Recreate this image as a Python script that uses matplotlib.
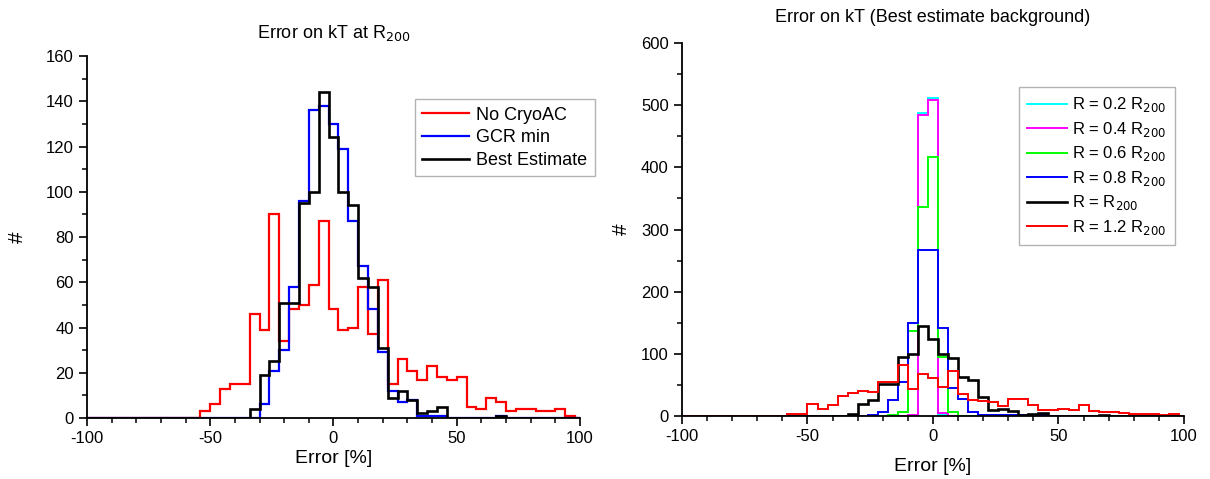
import numpy as np
import matplotlib
matplotlib.use("Agg")
import matplotlib.pyplot as plt
from matplotlib.ticker import MultipleLocator

plt.rcParams['font.family'] = ['Liberation Sans', 'DejaVu Sans']
plt.rcParams['axes.unicode_minus'] = False

# 4 % wide bins, edges at ...,-6,-2,2,6,...
bin_w = 4
edges = np.arange(-102, 103, bin_w)

# left panel: counts per bin, starting at the given lower edge
no_cryo_start = -54
no_cryo = [3, 6, 13, 15, 15, 46, 39, 90, 34, 48, 50, 59, 87, 48, 39, 40, 58, 37, 61, 15,
           26, 21, 17, 23, 18, 17, 18, 5, 4, 9, 7, 3, 4, 4, 3, 3, 4, 1]
gcr_min_start = -34
gcr_min = [0, 6, 21, 30, 58, 96, 136, 138, 130, 119, 87, 67, 48, 29, 12, 7, 8, 1, 1, 1,
           0, 0, 0, 0, 0, 1]
best_start = -34
best = [4, 19, 25, 51, 51, 95, 100, 144, 124, 100, 94, 62, 58, 31, 9, 12, 8, 2, 3, 5,
        0, 0, 0, 0, 0, 1]

# right panel
r02_start = -6
r02 = [487, 511, 2]
r04_start = -10
r04 = [1, 484, 508, 5]
r06_start = -18
r06 = [1, 6, 137, 336, 417, 95, 7]
r08_start = -34
r08 = [0, 0, 1, 7, 26, 55, 149, 267, 267, 142, 45, 27, 7, 2, 1, 1, 1, 1, 1, 1]
r12_start = -58
r12 = [4, 4, 19, 11, 18, 32, 37, 40, 39, 54, 55, 82, 43, 67, 61, 47, 73, 35, 25, 24,
       22, 16, 27, 28, 18, 10, 9, 12, 10, 17, 8, 6, 6, 5, 4, 3, 3, 2, 3]


def full(counts, start):
    # put counts on the common bin grid, zeros elsewhere
    out = np.zeros(len(edges) - 1)
    i0 = int((start - edges[0]) // bin_w)
    out[i0:i0 + len(counts)] = counts
    return out


def style(ax, ymax, ymaj, ymin, xpad, ypad):
    ax.set_xlim(-100, 100)
    ax.set_ylim(0, ymax)
    ax.spines['top'].set_visible(False)
    ax.spines['right'].set_visible(False)
    for s in ('left', 'bottom'):
        ax.spines[s].set_linewidth(1.3)
    ax.xaxis.set_major_locator(MultipleLocator(50))
    ax.xaxis.set_minor_locator(MultipleLocator(10))
    ax.yaxis.set_major_locator(MultipleLocator(ymaj))
    ax.yaxis.set_minor_locator(MultipleLocator(ymin))
    ax.tick_params(which='major', direction='out', length=6, width=1.2, labelsize=12)
    ax.tick_params(which='minor', direction='out', length=3.5, width=1.1)
    ax.set_xlabel('Error [%]', fontsize=14, labelpad=xpad)
    ax.set_ylabel('#', fontsize=15, labelpad=ypad)


fig = plt.figure(figsize=(12.1, 4.79), dpi=100)
ax1 = fig.add_axes([0.0719, 0.1273, 0.4074, 0.7557])
ax2 = fig.add_axes([0.5636, 0.1315, 0.4149, 0.7787])

ax1.stairs(full(no_cryo, no_cryo_start), edges, color='#ff0000', lw=1.6, label='No CryoAC')
ax1.stairs(full(gcr_min, gcr_min_start), edges, color='#0000ff', lw=1.6, label='GCR min')
ax1.stairs(full(best, best_start), edges, color='black', lw=1.9, label='Best Estimate')
style(ax1, 160, 20, 10, 3, 14)
ax1.set_title('Error on kT at R$_{200}$', fontsize=13, pad=13)
ax1.legend(loc='upper left', bbox_to_anchor=(0.665, 0.88), fontsize=13, frameon=True,
           fancybox=False, edgecolor='#a0a0a0', handlelength=2.6, handletextpad=0.4,
           borderpad=0.4, labelspacing=0.32, borderaxespad=0)

ax2.stairs(full(r02, r02_start), edges, color='#00ffff', lw=1.4, label='R = 0.2 R$_{200}$')
ax2.stairs(full(r04, r04_start), edges, color='#ff00ff', lw=1.4, label='R = 0.4 R$_{200}$')
ax2.stairs(full(r06, r06_start), edges, color='#00ff00', lw=1.4, label='R = 0.6 R$_{200}$')
ax2.stairs(full(r08, r08_start), edges, color='#0000ff', lw=1.4, label='R = 0.8 R$_{200}$')
ax2.stairs(full(best, best_start), edges, color='black', lw=1.9, label='R = R$_{200}$')
ax2.stairs(full(r12, r12_start), edges, color='#ff0000', lw=1.4, label='R = 1.2 R$_{200}$')
style(ax2, 600, 100, 50, 10, 7)
ax2.set_title('Error on kT (Best estimate background)', fontsize=13, pad=15)
ax2.legend(loc='upper left', bbox_to_anchor=(0.671, 0.882), fontsize=12, frameon=True,
           fancybox=False, edgecolor='#a0a0a0', handlelength=2.4, handletextpad=0.3,
           borderpad=0.5, labelspacing=0.33, borderaxespad=0)

fig.savefig('out.png', dpi=100)
